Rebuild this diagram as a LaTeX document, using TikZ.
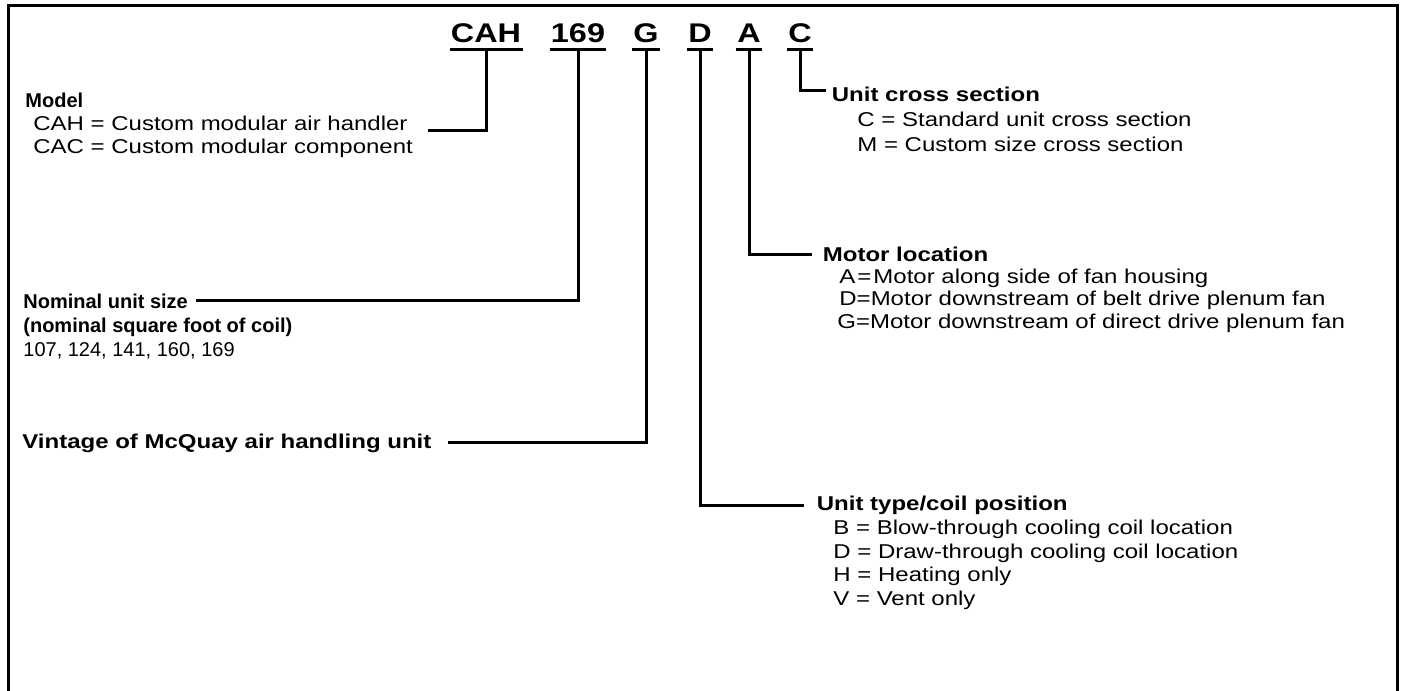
\documentclass[tikz,border=0pt]{standalone}
\usepackage{fontspec}
\setmainfont{Liberation Sans}[FakeStretch=1.2]
\newfontfamily\plainfont{Liberation Sans}
\usetikzlibrary{positioning}

\begin{document}
\begin{tikzpicture}[
  x=0.5pt,
  y=-0.5pt,
  code/.style={
    font=\bfseries\fontsize{13.5}{15}\selectfont,
    inner xsep=0.5pt,
    inner ysep=3pt,
    anchor=base
  },
  head/.style={
    font=\bfseries\fontsize{10}{12}\selectfont,
    inner sep=0pt,
    anchor=base west
  },
  item/.style={
    font=\fontsize{10}{12}\selectfont,
    inner sep=0pt,
    anchor=base west
  },
  plainhead/.style={font=\plainfont\bfseries\fontsize{10}{12}\selectfont},
  plainitem/.style={font=\plainfont\fontsize{10}{12}\selectfont},
  lead/.style={line width=1.5pt},
  frame/.style={line width=1.5pt}
]
\useasboundingbox (0,0) rectangle (1401,690);

% Outer frame, open at the bottom
\draw[frame] (8.5,700) -- (8.5,6) -- (1397,6) -- (1397,700);

% Row 0: model code
\node[code] (cah) at (486,43) {CAH};
\node[code] (size) at (578,43) {169};
\node[code] (vint) at (646,43) {G};
\node[code] (ctype) at (700,43) {D};
\node[code] (mloc) at (749,43) {A};
\node[code] (xsec) at (800,43) {C};

% Left side: model, size, vintage
\node[head, plainhead] (modelhd) at (25,107) {Model};
\node[item] (modelcah) at (33,130.5) {CAH = Custom modular air handler};
\node[item] (modelcac) at (33,154) {CAC = Custom modular component};

\node[head, plainhead] (sizehd) at (23,308) {Nominal unit size};
\node[head, plainhead] (sizesub) at (23,332) {(nominal square foot of coil)};
\node[item, plainitem] (sizelist) at (23,356) {107, 124, 141, 160, 169};

\node[head] (vinthd) at (22,448) {Vintage of McQuay air handling unit};

% Right side: cross section, motor, unit type
\node[head] (xsechd) at (831.5,101.5) {Unit cross section};
\node[item] (xsecc) at (857,126.5) {C = Standard unit cross section};
\node[item] (xsecm) at (857,151.5) {M = Custom size cross section};

\node[head] (mlochd) at (822.5,261.5) {Motor location};
\node[item] (mloca) at (839,283.5) {A\kern1pt=\kern1ptMotor along side of fan housing};
\node[item] (mlocd) at (839,305.5) {D=Motor downstream of belt drive plenum fan};
\node[item] (mlocg) at (837,328) {G=Motor downstream of direct drive plenum fan};

\node[head] (ctypehd) at (816.5,510.5) {Unit type/coil position};
\node[item] (ctypeb) at (833,534.5) {B = Blow-through cooling coil location};
\node[item] (ctyped) at (833,558) {D = Draw-through cooling coil location};
\node[item] (ctypeh) at (833,581.5) {H = Heating only};
\node[item] (ctypev) at (833,605) {V = Vent only};

% Underlines
\foreach \c in {cah,size,vint,ctype,mloc,xsec}
  \draw[lead] (\c.south west) -- (\c.south east);

% Leaders
\draw[lead] (cah.south) |- ([xshift=10pt]modelcah.base east);
\draw[lead] (size.south) |- ([xshift=4pt]sizehd.east);
\draw[lead] (vint.south) |- ([xshift=8pt]vinthd.east);
\draw[lead] (ctype.south) |- ([xshift=-6.3pt]ctypehd.west);
\draw[lead] (mloc.south) |- ([xshift=-5.5pt]mlochd.west);
\draw[lead] (xsec.south) |- ([xshift=-3pt,yshift=2pt]xsechd.west);
\end{tikzpicture}
\end{document}
